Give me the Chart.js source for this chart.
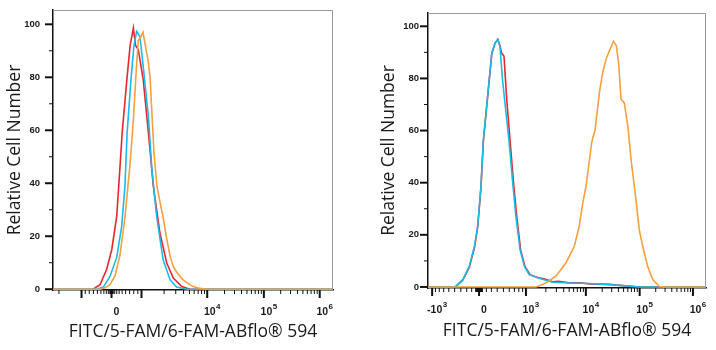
<!DOCTYPE html>
<html>
<head>
<meta charset="utf-8">
<script src="https://cdn.jsdelivr.net/npm/chart.js@4.4.1/dist/chart.umd.min.js"></script>
<style>
  body { margin: 0; background: #fff; }
  .wrap { display: flex; width: 716px; height: 350px; }
  canvas { display: block; }
</style>
</head>
<body>
<div class="wrap">
  <canvas id="leftChart" width="358" height="350"></canvas>
  <canvas id="rightChart" width="358" height="350"></canvas>
</div>
<script>
// histogram bins: [display channel (0-1024), relative cell count]
const leftRed = [[0,0],[117,0],[147,0],[172,1.7],[196,7.4],[215,15],[233,27.5],[243,43],[253,59],[270,79],[282,92],[294,98.6],[302,92],[312,90.4],[330,79],[349,59],[367,38.8],[391,21.2],[416,9.9],[440,4.2],[471,1],[501,0],[1024,0]];
const leftCyan = [[0,0],[160,0],[184,0.8],[208,4.7],[233,12],[251,23.6],[263,38.7],[271,59],[285,79],[296,92],[306,97.3],[318,95.4],[330,84],[349,65],[361,46],[379,27.5],[403,11],[428,3.6],[452,0.8],[489,0],[1024,0]];
const leftOrange = [[0,0],[172,0],[190,0.5],[208,1.7],[227,5],[245,13],[263,27],[282,47.5],[294,64],[304,82],[312,94],[320,95],[329,97],[343,89],[349,85.4],[355,80],[362,66],[369,52],[380,39],[393,32],[403,27],[416,19],[428,12.5],[440,8.5],[452,6.5],[471,4],[489,2.5],[512,1],[538,0.3],[563,0],[1024,0]];

const rightRed = [[0,0],[91,0],[103,0.2],[128,2.6],[152,7.5],[171,15],[183,23],[195,38],[204,56],[216,69],[235,89.5],[247,93.5],[257,95],[264,93],[271,89.8],[280,88.5],[290,71.9],[302,56.5],[315,40],[327,27],[341,14.3],[357,7.9],[376,4.7],[404,3.6],[430,3],[459,2],[480,2.2],[520,1.6],[560,1.6],[594,1.2],[668,1],[717,0.5],[778,0],[1024,0]];
const rightCyan = [[0,0],[91,0],[103,0.3],[128,2.8],[152,7.9],[171,15.6],[183,23.3],[195,38.6],[204,56.5],[216,69.3],[235,89.8],[247,93.6],[257,94.9],[265,92.3],[275,78.9],[290,64.2],[298,56.5],[312,39.9],[324,27],[339,14.3],[355,7.9],[373,4.7],[404,3.5],[428,2.8],[459,1.8],[520,1.5],[594,1.3],[668,0.9],[717,0.5],[778,0],[1024,0]];
const rightOrange = [[0,0],[398,0],[422,0.9],[446,2.3],[471,4.1],[508,9.2],[539,15.6],[557,23.3],[570,32.2],[582,38.6],[595,49],[604,56],[615,60],[622,66],[632,75],[643,82],[656,87.5],[670,91],[683,94.3],[694,92.5],[703,85],[711,72],[723,70.6],[737,61],[748,48.8],[766,33.5],[778,22],[791,15.6],[809,7.9],[828,2.8],[852,0.2],[870,0],[1024,0]];

// labelled decades on each axis
const leftXLabels = [0, 1e4, 1e5, 1e6];
const rightXLabels = [-1e3, 0, 1e3, 1e4, 1e5, 1e6];
const yLabels = [0, 20, 40, 60, 80, 100];

const RED = '#e8262d', CYAN = '#1db9e8', ORANGE = '#f6a03f';

// biexponential display: channel offset from zero -> intensity
function biexValue(p, t) {
  const s = Math.sign(p), q = Math.abs(p);
  return s * (t.a * (Math.pow(10, q / t.d) - 1) + t.b * (1 - Math.pow(10, -q / t.e)));
}
function biexChannel(v, t) {
  let lo = -2000, hi = 2000;
  for (let i = 0; i < 60; i++) {
    const mid = (lo + hi) / 2;
    if (biexValue(mid, t) < v) lo = mid; else hi = mid;
  }
  return t.zero + (lo + hi) / 2;
}

function xTickList(t, labelled) {
  const out = [{ value: t.zero, long: true, mant: labelled.includes(0) ? '0' : '', exp: '' }];
  for (let k = 1; k <= 6; k++) {
    for (let m = 1; m <= 9; m++) {
      const v = m * Math.pow(10, k);
      [v, -v].forEach(val => {
        const ch = biexChannel(val, t);
        if (ch < 0 || ch > 1024) return;
        const lab = labelled.includes(val);
        out.push({
          value: ch, long: m === 1 && k >= 3,
          mant: lab ? (val < 0 ? '-10' : '10') : '',
          exp: lab ? String(k) : ''
        });
      });
    }
  }
  return out.sort((a, b) => a.value - b.value);
}

function yTickList() {
  const out = [];
  for (let v = 0; v <= 100; v += 5) {
    const lab = yLabels.includes(v);
    out.push({ value: v, long: lab, text: lab ? String(v) : '' });
  }
  return out;
}

const tickFont = { family: 'Liberation Sans, Arial', size: 9.5, weight: 'bold' };
const titleFont = { family: 'Open Sans', size: 17.5 };

// tick marks of two lengths, decade labels with raised exponents,
// and the light frame on top and right
const axisMarks = {
  id: 'axisMarks',
  afterDraw(chart) {
    const ctx = chart.ctx, area = chart.chartArea;
    const xs = chart.scales.x, ys = chart.scales.y;
    ctx.save();
    ctx.strokeStyle = '#999';
    ctx.lineWidth = 1;
    ctx.beginPath();
    ctx.moveTo(area.left, area.top + 0.5);
    ctx.lineTo(area.right - 0.5, area.top + 0.5);
    ctx.lineTo(area.right - 0.5, area.bottom);
    ctx.stroke();

    ctx.strokeStyle = '#111';
    xs.ticks.forEach(tk => {
      const px = xs.getPixelForValue(tk.value);
      ctx.lineWidth = tk.long ? 2 : 1;
      ctx.beginPath();
      ctx.moveTo(px, area.bottom);
      ctx.lineTo(px, area.bottom + (tk.long ? 8 : 4));
      ctx.stroke();
    });
    ys.ticks.forEach(tk => {
      const py = ys.getPixelForValue(tk.value);
      ctx.lineWidth = tk.long ? 2 : 1;
      ctx.beginPath();
      ctx.moveTo(area.left, py);
      ctx.lineTo(area.left - (tk.long ? 8 : 4), py);
      ctx.stroke();
    });

    const mantFont = `bold 10.5px ${tickFont.family}`;
    const expFont = `bold 8px ${tickFont.family}`;
    const ly = area.bottom + 22;
    ctx.fillStyle = '#1a1a1a';
    ctx.textBaseline = 'middle';
    ctx.textAlign = 'left';
    xs.ticks.forEach(tk => {
      if (!tk.mant) return;
      const px = xs.getPixelForValue(tk.value);
      ctx.font = mantFont;
      const w1 = ctx.measureText(tk.mant).width;
      ctx.font = expFont;
      const w2 = tk.exp ? ctx.measureText(tk.exp).width + 0.5 : 0;
      const x0 = px + 5 - (w1 + w2) / 2;
      ctx.font = mantFont;
      ctx.fillText(tk.mant, x0, ly);
      if (tk.exp) {
        ctx.font = expFont;
        ctx.fillText(tk.exp, x0 + w1 + 0.5, ly - 5.5);
      }
    });
    ctx.restore();
  }
};

function histogram(id, series, t, labelled, box) {
  return new Chart(document.getElementById(id), {
    type: 'line',
    data: {
      datasets: series.map(s => ({
        data: s.bins.map(([x, y]) => ({ x, y })),
        borderColor: s.color,
        borderWidth: 1.6,
        pointRadius: 0,
        tension: 0,
        fill: false
      }))
    },
    options: {
      responsive: false,
      animation: false,
      devicePixelRatio: 1,
      layout: { padding: { top: box.top, right: box.right, left: 0, bottom: 0 } },
      plugins: { legend: { display: false }, tooltip: { enabled: false } },
      scales: {
        x: {
          type: 'linear', min: 0, max: 1024,
          grid: { display: false, drawTicks: false },
          border: { color: '#111', width: 1.5 },
          afterBuildTicks: s => { s.ticks = xTickList(t, labelled); },
          afterFit: s => { s.height = box.xHeight; s.paddingLeft = 0; s.paddingRight = 0; },
          ticks: {
            autoSkip: false, maxRotation: 0, minRotation: 0,
            callback: () => ''
          },
          title: {
            display: true, text: 'FITC/5-FAM/6-FAM-ABflo® 594',
            color: '#1a1a1a', font: titleFont,
            padding: { top: 0, bottom: box.xTitle }
          }
        },
        y: {
          min: box.yMin, max: box.yMax,
          grid: { display: false, drawTicks: false },
          border: { color: '#111', width: 1.5 },
          afterBuildTicks: s => { s.ticks = yTickList(); },
          afterFit: s => { s.width = box.yWidth; s.paddingTop = 0; s.paddingBottom = 0; },
          ticks: {
            padding: box.yPad,
            color: '#1a1a1a', font: tickFont,
            callback: (v, i, ticks) => ticks[i].text
          },
          title: {
            display: true, text: 'Relative Cell Number',
            color: '#1a1a1a', font: titleFont,
            padding: { top: box.yTitle, bottom: 0 }
          }
        }
      }
    },
    plugins: [axisMarks]
  });
}

histogram('leftChart',
  [{ bins: leftOrange, color: ORANGE }, { bins: leftCyan, color: CYAN }, { bins: leftRed, color: RED }],
  { zero: 214, a: 185, b: 565, d: 204, e: 73 },
  leftXLabels,
  { top: 10, right: 25, xHeight: 60, yWidth: 53, yMin: -0.3, yMax: 105.4, yPad: 13, xTitle: 7, yTitle: 5 });

histogram('rightChart',
  [{ bins: rightOrange, color: ORANGE }, { bins: rightCyan, color: CYAN }, { bins: rightRed, color: RED }],
  { zero: 188, a: 95.5, b: 379, d: 196, e: 110 },
  rightXLabels,
  { top: 13, right: 10, xHeight: 62, yWidth: 70, yMin: -0.4, yMax: 105.1, yPad: 9, xTitle: 8, yTitle: 21 });
</script>
</body>
</html>
